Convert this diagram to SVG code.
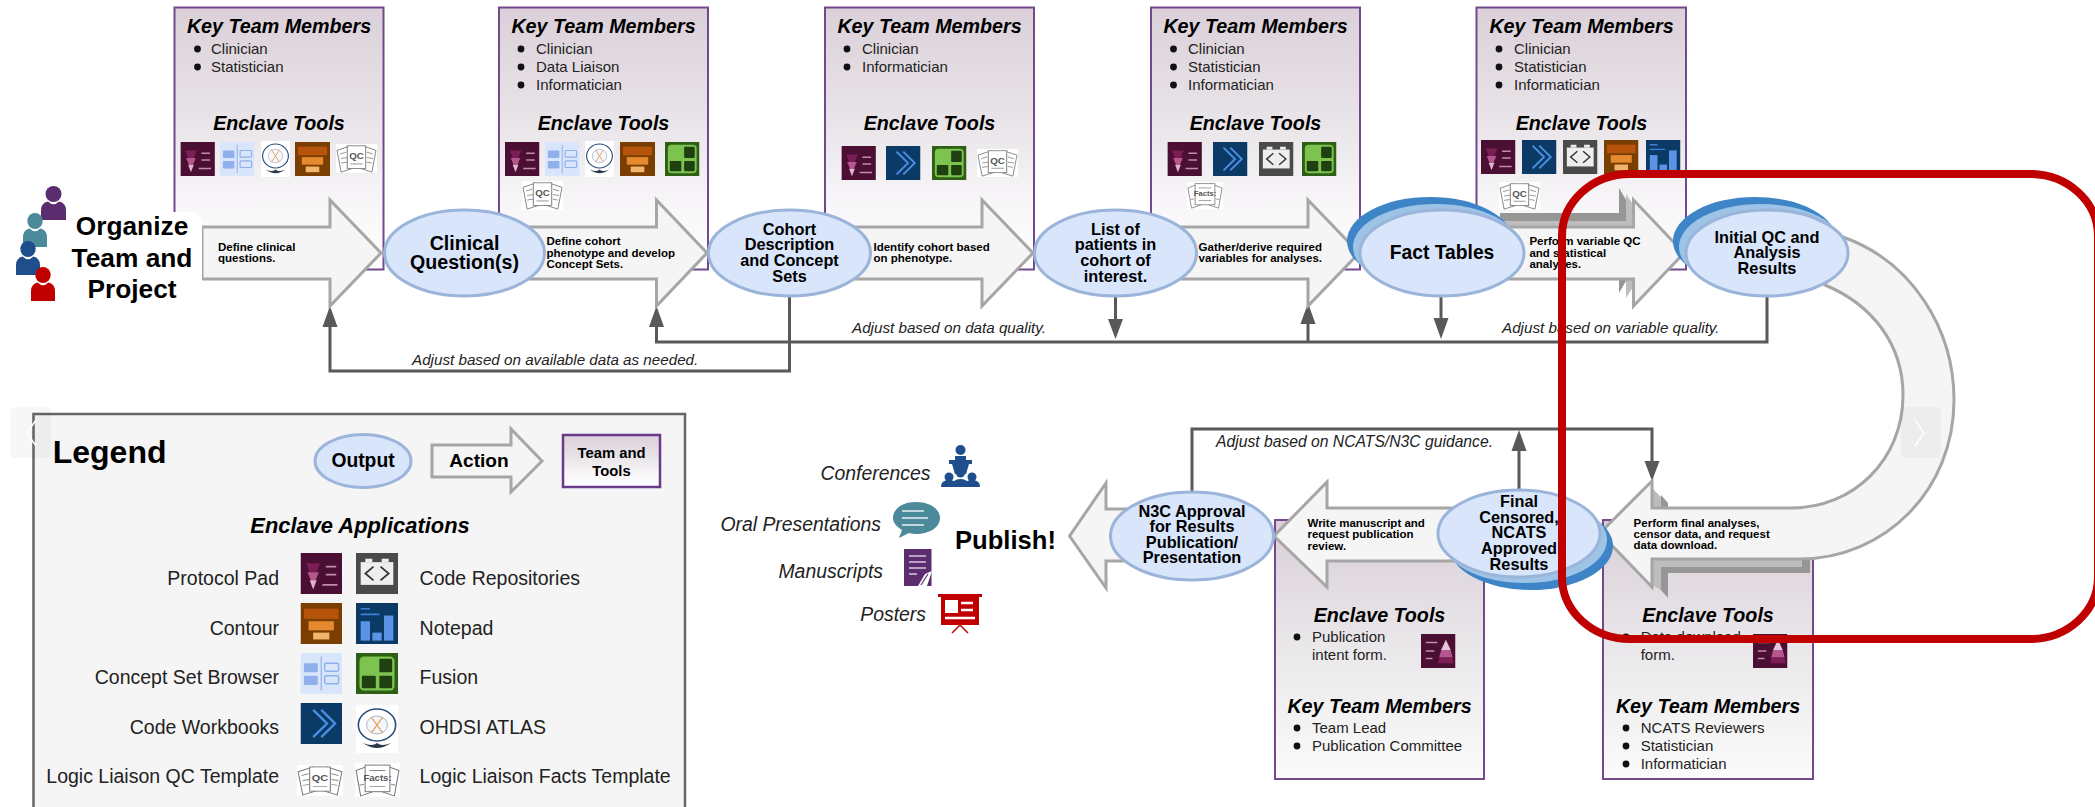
<svg xmlns="http://www.w3.org/2000/svg" width="2095" height="807" viewBox="0 0 2095 807">
<style>
text{font-family:"Liberation Sans",Arial,sans-serif;fill:#000}
.h{font-size:19.7px;font-weight:bold;font-style:italic;text-anchor:middle}
.b{font-size:15px;fill:#222}
.a{font-size:11.5px;font-weight:bold}
.o{font-size:16.3px;font-weight:bold;text-anchor:middle}
.f{font-size:15.2px;font-style:italic;fill:#222}
.p{font-size:19.4px;font-style:italic;text-anchor:end;fill:#222}
.ll{font-size:19.5px;text-anchor:end;fill:#222}
.lr{font-size:19.5px;fill:#222}
.panel{stroke:#74488c;stroke-width:2}
.arr{fill:#f5f5f5;stroke:#a6a6a6;stroke-width:3;stroke-linejoin:miter}
.ell{fill:#d8e5fb;stroke:#9bb4da;stroke-width:3}
.s1{fill:#3d85c6}.s2{fill:#9dc3e6}
.sd{fill:#969696}.sl{fill:#bdbdbd}
.ln{fill:none;stroke:#595959;stroke-width:3}
.hd{fill:#595959}
.dot{fill:#111}
.icontext{font-size:9px;fill:#555;font-weight:bold;text-anchor:middle}
</style>
<defs>
<linearGradient id="g1" x1="0" y1="0" x2="0" y2="1"><stop offset="0" stop-color="#dbd0d9"/><stop offset=".45" stop-color="#e9e5e9"/><stop offset=".75" stop-color="#f8f6f8"/><stop offset="1" stop-color="#fff"/></linearGradient>
<linearGradient id="g2" x1="0" y1="0" x2="0" y2="1"><stop offset="0" stop-color="#d9ced8"/><stop offset=".5" stop-color="#eae8ea"/><stop offset="1" stop-color="#fbfbfb"/></linearGradient>
<symbol id="pp" viewBox="0 0 36 36" preserveAspectRatio="none"><rect width="36" height="36" fill="#4a0f33"/><polygon points="5,9 17,9 14,17 8,17" fill="#7d1d55"/><polygon points="6,17 16,17 13,24 9,24" fill="#b5568f"/><polygon points="8,24 14,24 11,32" fill="#e2b3d0"/><path d="M22 12h9M22 19h9M19 28h13" stroke="#c48ab0" stroke-width="1.6"/></symbol>
<symbol id="cw" viewBox="0 0 36 36" preserveAspectRatio="none"><rect width="36" height="36" fill="#0b3a66"/><path d="M11 6l12 12l-12 12M18 6l12 12l-12 12" fill="none" stroke="#4a90e2" stroke-width="2"/></symbol>
<symbol id="repo" viewBox="0 0 36 36" preserveAspectRatio="none"><rect width="36" height="36" fill="#4a4a4a"/><rect x="4" y="8" width="28" height="20" fill="#eee"/><rect x="8" y="5" width="6" height="3" fill="#eee"/><rect x="22" y="5" width="6" height="3" fill="#eee"/><path d="M15 12l-7 6l7 6M21 12l7 6l-7 6" fill="none" stroke="#333" stroke-width="1.5"/></symbol>
<symbol id="con" viewBox="0 0 36 36" preserveAspectRatio="none"><rect width="36" height="36" fill="#7a3e00"/><rect x="3" y="5" width="30" height="9" fill="#b5540a"/><rect x="7" y="16" width="22" height="8" fill="#e58a2e"/><rect x="11" y="26" width="14" height="6" fill="#f3b56b"/></symbol>
<symbol id="note" viewBox="0 0 36 36" preserveAspectRatio="none"><rect width="36" height="36" fill="#0c3a66"/><path d="M4 5h8M4 10h16" stroke="#3f7fd6" stroke-width="1.4"/><rect x="4" y="16" width="8" height="17" fill="#5b93e6"/><rect x="14" y="26" width="8" height="7" fill="#5b93e6"/><rect x="24" y="11" width="8" height="22" fill="#5b93e6"/></symbol>
<symbol id="csb" viewBox="0 0 36 36" preserveAspectRatio="none"><rect width="36" height="36" fill="#d8e5fb"/><rect x="3" y="9" width="12" height="8" rx="1" fill="#8fb0ea"/><rect x="3" y="20" width="12" height="8" rx="1" fill="#8fb0ea"/><rect x="21" y="9" width="12" height="7" rx="1" fill="none" stroke="#8fb0ea" stroke-width="1.2"/><rect x="21" y="20" width="12" height="7" rx="1" fill="none" stroke="#8fb0ea" stroke-width="1.2"/><path d="M18 3v30" stroke="#8fb0ea" stroke-width="1"/></symbol>
<symbol id="fus" viewBox="0 0 36 36" preserveAspectRatio="none"><rect width="36" height="36" fill="#2f5f14"/><rect x="3" y="3" width="30" height="30" rx="4" fill="#7cc350"/><rect x="20" y="5" width="11" height="12" rx="1" fill="#1f4010"/><rect x="5" y="20" width="12" height="11" rx="1" fill="#1f4010"/><rect x="20" y="20" width="11" height="11" rx="1" fill="#1f4010"/></symbol>
<symbol id="atl" viewBox="0 0 36 48" preserveAspectRatio="none"><rect width="36" height="48" fill="#fff"/><circle cx="18" cy="20" r="16" fill="#fff" stroke="#2a4d7a" stroke-width="1.4"/><circle cx="18" cy="20" r="9" fill="#f4f7fb" stroke="#9ab" stroke-width=".8"/><path d="M13 12l10 16M23 12l-10 16" stroke="#e8a060" stroke-width="1.2"/><path d="M6 38Q18 48 30 38Q22 42 18 38Q14 42 6 38Z" fill="#2b3a4a"/></symbol>
<symbol id="qc" viewBox="0 0 40 32" preserveAspectRatio="none"><rect width="40" height="32" fill="#fff"/><polygon points="1,7 14,2 16,27 5,31" fill="#fff" stroke="#777" stroke-width=".9"/><polygon points="39,7 26,2 24,27 35,31" fill="#fff" stroke="#777" stroke-width=".9"/><rect x="11" y="2" width="18" height="25" fill="#fff" stroke="#777" stroke-width=".9"/><path d="M4 11l6-2M5 16l6-1M5 21l6-1M30 9l6 2M30 15l6 1M30 20l5 1M14 22h12" stroke="#888" stroke-width=".9"/><text x="20" y="17" class="icontext" style="font-size:9.5px">QC</text></symbol>
<symbol id="facts" viewBox="0 0 40 32" preserveAspectRatio="none"><rect width="40" height="32" fill="#fff"/><polygon points="1,7 14,2 16,27 5,31" fill="#fff" stroke="#777" stroke-width=".9"/><polygon points="39,7 26,2 24,27 35,31" fill="#fff" stroke="#777" stroke-width=".9"/><rect x="9" y="2" width="22" height="25" fill="#fff" stroke="#777" stroke-width=".9"/><path d="M13 7h14M13 22h14M4 21l4-1M32 20l4 1" stroke="#888" stroke-width=".9"/><text x="20" y="17" class="icontext" style="font-size:8.5px">Facts:</text></symbol>
<symbol id="pub" viewBox="0 0 36 36" preserveAspectRatio="none"><rect width="36" height="36" fill="#4a0f33"/><path d="M5 9h12M5 18h9M5 26h7" stroke="#c48ab0" stroke-width="1.6"/><polygon points="26,6 21,17 31,17" fill="#e8c4da"/><polygon points="21,17 31,17 33,25 19,25" fill="#b5568f"/><polygon points="19,25 33,25 34,31 18,31" fill="#7d1d55"/></symbol>
<symbol id="person" viewBox="0 0 25 34" preserveAspectRatio="none"><circle cx="12.5" cy="8" r="8" fill="currentColor"/><path d="M0 34V24Q0 17 7 15.5Q12.5 21 18 15.5Q25 17 25 24V34Z" fill="currentColor"/></symbol>
</defs>
<rect width="2095" height="807" fill="#fff"/>

<g id="panel-1"><rect class="panel" x="174.5" y="7.5" width="209" height="262" fill="url(#g1)"/></g>
<g id="panel-2"><rect class="panel" x="499" y="7.5" width="209" height="262" fill="url(#g1)"/></g>
<g id="panel-3"><rect class="panel" x="825" y="7.5" width="209" height="262" fill="url(#g1)"/></g>
<g id="panel-4"><rect class="panel" x="1151" y="7.5" width="209" height="262" fill="url(#g1)"/></g>
<g id="panel-5"><rect class="panel" x="1476.5" y="7.5" width="209.5" height="262" fill="url(#g1)"/></g>
<g id="panel-6"><rect class="panel" x="1275" y="520" width="209" height="259" fill="url(#g2)"/></g>
<g id="panel-7"><rect class="panel" x="1603" y="520" width="210" height="259" fill="url(#g2)"/></g>

<g id="panel-1-content">
<text class="h" x="279" y="33">Key Team Members</text>
<circle class="dot" cx="197.5" cy="49" r="3.4"/><text class="b" x="211" y="54">Clinician</text>
<circle class="dot" cx="197.5" cy="67" r="3.4"/><text class="b" x="211" y="72">Statistician</text>
<text class="h" x="279" y="130">Enclave Tools</text>
<use href="#pp" x="180.4" y="142" width="34.5" height="34"/><use href="#csb" x="220" y="142" width="34.5" height="34"/><use href="#atl" x="261" y="141" width="29" height="36"/><use href="#con" x="295" y="142" width="35" height="34"/><use href="#qc" x="336" y="144" width="41" height="29"/>
</g>
<g id="panel-2-content">
<text class="h" x="603.5" y="33">Key Team Members</text>
<circle class="dot" cx="521" cy="49" r="3.4"/><text class="b" x="536" y="54">Clinician</text>
<circle class="dot" cx="521" cy="67" r="3.4"/><text class="b" x="536" y="72">Data Liaison</text>
<circle class="dot" cx="521" cy="85" r="3.4"/><text class="b" x="536" y="90">Informatician</text>
<text class="h" x="603.5" y="130">Enclave Tools</text>
<use href="#pp" x="505" y="142" width="34.5" height="34"/><use href="#csb" x="545" y="142" width="34.5" height="34"/><use href="#atl" x="585" y="141" width="29" height="36"/><use href="#con" x="620" y="142" width="35" height="34"/><use href="#fus" x="665" y="142" width="34.5" height="34"/><use href="#qc" x="522" y="181" width="41" height="29"/>
</g>
<g id="panel-3-content">
<text class="h" x="929.5" y="33">Key Team Members</text>
<circle class="dot" cx="847" cy="49" r="3.4"/><text class="b" x="862" y="54">Clinician</text>
<circle class="dot" cx="847" cy="67" r="3.4"/><text class="b" x="862" y="72">Informatician</text>
<text class="h" x="929.5" y="130">Enclave Tools</text>
<use href="#pp" x="841.4" y="146" width="34.5" height="34"/><use href="#cw" x="886" y="146" width="34.5" height="34"/><use href="#fus" x="932" y="146" width="34.5" height="34"/><use href="#qc" x="977" y="149" width="41" height="28"/>
</g>
<g id="panel-4-content">
<text class="h" x="1255.5" y="33">Key Team Members</text>
<circle class="dot" cx="1173.5" cy="49" r="3.4"/><text class="b" x="1188" y="54">Clinician</text>
<circle class="dot" cx="1173.5" cy="67" r="3.4"/><text class="b" x="1188" y="72">Statistician</text>
<circle class="dot" cx="1173.5" cy="85" r="3.4"/><text class="b" x="1188" y="90">Informatician</text>
<text class="h" x="1255.5" y="130">Enclave Tools</text>
<use href="#pp" x="1167.4" y="142" width="34.5" height="34"/><use href="#cw" x="1213" y="142" width="34.5" height="34"/><use href="#repo" x="1259" y="142" width="34.5" height="34"/><use href="#fus" x="1302" y="142" width="34.5" height="34"/><use href="#facts" x="1187" y="182" width="36" height="27"/>
</g>
<g id="panel-5-content">
<text class="h" x="1581.5" y="33">Key Team Members</text>
<circle class="dot" cx="1499" cy="49" r="3.4"/><text class="b" x="1514" y="54">Clinician</text>
<circle class="dot" cx="1499" cy="67" r="3.4"/><text class="b" x="1514" y="72">Statistician</text>
<circle class="dot" cx="1499" cy="85" r="3.4"/><text class="b" x="1514" y="90">Informatician</text>
<text class="h" x="1581.5" y="130">Enclave Tools</text>
<use href="#pp" x="1481" y="140" width="34.5" height="34"/><use href="#cw" x="1522" y="140" width="34.5" height="34"/><use href="#repo" x="1563" y="140" width="34.5" height="34"/><use href="#con" x="1604" y="140" width="34.5" height="34"/><use href="#note" x="1646" y="140" width="34.5" height="34"/><use href="#qc" x="1499" y="182" width="41" height="28"/>
</g>
<g id="panel-6-content">
<text class="h" x="1379.5" y="622">Enclave Tools</text>
<circle class="dot" cx="1297" cy="637" r="3.4"/><text class="b" x="1312" y="642">Publication</text><text class="b" x="1312" y="660">intent form.</text>
<use href="#pub" x="1421" y="634" width="34.5" height="34"/>
<text class="h" x="1379.5" y="713">Key Team Members</text>
<circle class="dot" cx="1297" cy="728" r="3.4"/><text class="b" x="1312" y="733">Team Lead</text>
<circle class="dot" cx="1297" cy="746" r="3.4"/><text class="b" x="1312" y="751">Publication Committee</text>
</g>
<g id="panel-7-content">
<text class="h" x="1708" y="622">Enclave Tools</text>
<circle class="dot" cx="1626" cy="637" r="3.4"/><text class="b" x="1640.7" y="642">Data download</text><text class="b" x="1640.7" y="660">form.</text>
<use href="#pub" x="1753" y="634" width="34.5" height="34"/>
<text class="h" x="1708" y="713">Key Team Members</text>
<circle class="dot" cx="1626" cy="728" r="3.4"/><text class="b" x="1640.7" y="733">NCATS Reviewers</text>
<circle class="dot" cx="1626" cy="746" r="3.4"/><text class="b" x="1640.7" y="751">Statistician</text>
<circle class="dot" cx="1626" cy="764" r="3.4"/><text class="b" x="1640.7" y="769">Informatician</text>
</g>

<g id="connectors">
<path class="ln" d="M789.5 296V371H330V325"/>
<polygon class="hd" points="330,306 322.5,327 337.5,327"/>
<path class="ln" d="M1767 296V342H656.5V325"/>
<polygon class="hd" points="656.5,306 649,327 664,327"/>
<path class="ln" d="M1308 342V320"/>
<polygon class="hd" points="1308,303 1300.5,324 1315.5,324"/>
<path class="ln" d="M1115.5 296V322"/>
<polygon class="hd" points="1115.5,339 1108,319 1123,319"/>
<path class="ln" d="M1441 296V322"/>
<polygon class="hd" points="1441,339 1433.5,318 1448.5,318"/>
<path class="ln" d="M1192 492V429H1652V465"/>
<polygon class="hd" points="1652,481 1644.5,461 1659.5,461"/>
<path class="ln" d="M1519 490V448"/>
<polygon class="hd" points="1519,430 1511.5,451 1526.5,451"/>
<text class="f" x="412" y="365">Adjust based on available data as needed.</text>
<text class="f" x="852" y="333">Adjust based on data quality.</text>
<text class="f" x="1502" y="333">Adjust based on variable quality.</text>
<text class="f" x="1216" y="447" style="font-size:15.7px">Adjust based on NCATS/N3C guidance.</text>
</g>

<g id="arrow-1"><polygon class="arr" points="202,227 330,227 330,200 381,253 330,306 330,279 202,279"/><text class="a" x="218" y="251">Define clinical</text><text class="a" x="218" y="262">questions.</text></g>
<g id="arrow-2"><polygon class="arr" points="530,227 656.5,227 656.5,200 707,253 656.5,306 656.5,279 530,279"/><text class="a" x="546.5" y="245">Define cohort</text><text class="a" x="546.5" y="257">phenotype and develop</text><text class="a" x="546.5" y="268">Concept Sets.</text></g>
<g id="arrow-3"><polygon class="arr" points="855,227 982,227 982,200 1033,253 982,306 982,279 855,279"/><text class="a" x="873.5" y="251">Identify cohort based</text><text class="a" x="873.5" y="262">on phenotype.</text></g>
<g id="arrow-4"><polygon class="arr" points="1180,227 1308,227 1308,200 1359,253 1308,306 1308,279 1180,279"/><text class="a" x="1198.6" y="251">Gather/derive required</text><text class="a" x="1198.6" y="262">variables for analyses.</text></g>
<g id="arrow-5">
<polygon class="sd" points="1500,213 1619,213 1619,188 1650,240 1619,293 1619,279 1500,279"/>
<polygon class="sl" points="1500,221 1626,221 1626,194 1660,245 1626,298 1626,279 1500,279"/>
<polygon class="arr" points="1500,227 1633.5,227 1633.5,200 1684,253 1633.5,306 1633.5,279 1500,279"/>
<text class="a" x="1529.4" y="245">Perform variable QC</text><text class="a" x="1529.4" y="257">and statistical</text><text class="a" x="1529.4" y="268">analyses.</text></g>
<g id="arrow-6">
<polygon class="sl" points="1652,488 1661,497 1661,508 1652,508"/>
<polygon class="sd" points="1661,495 1668,503 1668,508 1661,508"/>
<polygon class="sd" points="1661,559 1810,559 1810,573 1668,573 1668,598 1652,580"/>
<polygon class="sl" points="1652,559 1802,559 1802,567 1661,567 1661,590 1652,585"/>
<path class="arr" d="M1843 237C1913 262 1954 330 1954 400C1954 490 1885 559 1799 559L1652 559L1652 587L1600 533L1652 481L1652 508L1792 508C1853 508 1903 460 1903 395C1903 345 1873 305 1825 285Z"/>
<text class="a" x="1633.6" y="527">Perform final analyses,</text><text class="a" x="1633.6" y="538">censor data, and request</text><text class="a" x="1633.6" y="549">data download.</text></g>
<g id="arrow-7"><polygon class="arr" points="1480,508 1327,508 1327,482 1274,536 1327,587 1327,561 1480,561"/><text class="a" x="1307.5" y="527">Write manuscript and</text><text class="a" x="1307.5" y="538">request publication</text><text class="a" x="1307.5" y="550">review.</text></g>
<g id="arrow-8"><polygon class="arr" points="1150,509 1106,509 1106,483 1069.6,536 1106,588 1106,561 1150,561"/></g>

<g id="organize">
<rect x="10" y="212" width="192" height="92" rx="10" fill="#fff"/>
<use href="#person" x="41" y="186" width="25" height="34" style="color:#5c2d6e"/>
<use href="#person" x="23" y="213" width="24" height="34" style="color:#4a8a9a"/>
<use href="#person" x="16" y="241" width="24" height="34" style="color:#1f4e8c"/>
<use href="#person" x="31" y="267" width="24" height="34" style="color:#c00000"/>
<text x="132" y="235" font-size="26.3" font-weight="bold" text-anchor="middle">Organize</text>
<text x="132" y="267" font-size="26.3" font-weight="bold" text-anchor="middle">Team and</text>
<text x="132" y="298" font-size="26.3" font-weight="bold" text-anchor="middle">Project</text>
</g>
<g id="clinical-questions"><ellipse class="ell" cx="464.5" cy="253" rx="80" ry="43"/><text x="464.5" y="250" font-size="19.6" font-weight="bold" text-anchor="middle">Clinical</text><text x="464.5" y="269" font-size="19.6" font-weight="bold" text-anchor="middle">Question(s)</text></g>
<g id="cohort-description"><ellipse class="ell" cx="789.5" cy="253" rx="81" ry="43"/><text class="o" x="789.5" y="235">Cohort</text><text class="o" x="789.5" y="250">Description</text><text class="o" x="789.5" y="266">and Concept</text><text class="o" x="789.5" y="282">Sets</text></g>
<g id="patient-list"><ellipse class="ell" cx="1115.5" cy="253" rx="81" ry="43"/><text class="o" x="1115.5" y="235">List of</text><text class="o" x="1115.5" y="250">patients in</text><text class="o" x="1115.5" y="266">cohort of</text><text class="o" x="1115.5" y="282">interest.</text></g>
<g id="fact-tables"><ellipse class="s1" cx="1430" cy="241" rx="83" ry="44"/><ellipse class="s2" cx="1436" cy="247" rx="83" ry="43"/><ellipse class="ell" cx="1442" cy="253" rx="82" ry="43"/><text x="1442" y="259" font-size="19.3" font-weight="bold" text-anchor="middle">Fact Tables</text></g>
<g id="initial-qc"><ellipse class="s1" cx="1755" cy="241" rx="82" ry="44"/><ellipse class="s2" cx="1761" cy="247" rx="82" ry="43"/><ellipse class="ell" cx="1767" cy="253" rx="81" ry="43"/><text class="o" x="1767" y="243">Initial QC and</text><text class="o" x="1767" y="258">Analysis</text><text class="o" x="1767" y="274">Results</text></g>
<g id="final-results"><ellipse class="s1" cx="1531" cy="546" rx="82" ry="44"/><ellipse class="s2" cx="1525" cy="540" rx="82" ry="43"/><ellipse class="ell" cx="1519" cy="533.5" rx="81" ry="43.5"/><text class="o" x="1519" y="507">Final</text><text class="o" x="1519" y="523">Censored,</text><text class="o" x="1519" y="538">NCATS</text><text class="o" x="1519" y="554">Approved</text><text class="o" x="1519" y="570">Results</text></g>
<g id="n3c-approval"><ellipse class="ell" cx="1192" cy="536" rx="81.5" ry="44"/><text class="o" x="1192" y="517">N3C Approval</text><text class="o" x="1192" y="532">for Results</text><text class="o" x="1192" y="548">Publication/</text><text class="o" x="1192" y="563">Presentation</text></g>

<g id="publish">
<text x="955" y="549" font-size="25.6" font-weight="bold">Publish!</text>
<text class="p" x="930.5" y="480">Conferences</text>
<text class="p" x="881" y="531">Oral Presentations</text>
<text class="p" x="883" y="578">Manuscripts</text>
<text class="p" x="926" y="621">Posters</text>
<g fill="#1f4e8c"><circle cx="960.5" cy="450" r="5"/><path d="M955 456h11v7h-11z"/><rect x="949" y="460" width="23" height="4"/><polygon points="952,464 969,464 966,474 955,474"/><circle cx="960.5" cy="473" r="4.5"/><circle cx="949" cy="477" r="4.5"/><circle cx="972" cy="477" r="4.5"/><path d="M941 487q0-7 8-7q8 0 8 7zM952 487q0-8 8.5-8q8.5 0 8.5 8zM964 487q0-7 8-7q8 0 8 7z"/></g>
<path d="M916 502c14 0 24 7 24 16s-10 16-24 16q-4 0-7-1l-10 5l3-8c-5-3-9-7-9-12c0-9 9-16 23-16z" fill="#4a8a9a"/><path d="M902 511h22M902 518h26M902 525h22" stroke="#e9f1f3" stroke-width="1.6"/>
<rect x="904" y="549" width="27.5" height="37" fill="#5c2d6e"/><path d="M909 556h17M909 562h17M909 568h17M909 574h8" stroke="#d9c7df" stroke-width="1.6"/><path d="M918 586l7-12l7-3l-5 15z" fill="#fff"/><path d="M921 585l7-11" stroke="#5c2d6e" stroke-width="1.2"/>
<rect x="938" y="594" width="44" height="3" fill="#c00000"/><rect x="941" y="597" width="38" height="28" fill="#c00000"/><rect x="945" y="600" width="13" height="13" fill="#fff"/><path d="M961 603h12M961 610h12M945 618h30" stroke="#fff" stroke-width="2.5"/><path d="M960 625l-8 8M960 625l8 8" stroke="#c00000" stroke-width="1.5" fill="none"/>
</g>

<g id="legend">
<rect x="33.5" y="414" width="651.5" height="400" fill="#f5f5f5" stroke="#666" stroke-width="2.5"/>
<text x="52.7" y="463" font-size="32" font-weight="bold">Legend</text>
<ellipse class="ell" cx="363" cy="461" rx="48" ry="26.5"/><text x="363" y="467" font-size="19.3" font-weight="bold" text-anchor="middle">Output</text>
<polygon class="arr" points="432,445 511,445 511,429 542,461 511,492 511,477 432,477"/><text x="479" y="467" font-size="19.1" font-weight="bold" text-anchor="middle">Action</text>
<rect x="563" y="435" width="97" height="52" fill="url(#g1)" stroke="#6a3a8a" stroke-width="2.5"/><text x="611.5" y="458" font-size="14.8" font-weight="bold" text-anchor="middle">Team and</text><text x="611.5" y="476" font-size="14.8" font-weight="bold" text-anchor="middle">Tools</text>
<text x="360" y="533" font-size="21.9" font-weight="bold" font-style="italic" text-anchor="middle">Enclave Applications</text>
<text class="ll" x="279" y="585">Protocol Pad</text><text class="ll" x="279" y="635">Contour</text><text class="ll" x="279" y="684">Concept Set Browser</text><text class="ll" x="279" y="734">Code Workbooks</text><text class="ll" x="279" y="783">Logic Liaison QC Template</text>
<text class="lr" x="419.6" y="585">Code Repositories</text><text class="lr" x="419.6" y="635">Notepad</text><text class="lr" x="419.6" y="684">Fusion</text><text class="lr" x="419.6" y="734">OHDSI ATLAS</text><text class="lr" x="419.6" y="783">Logic Liaison Facts Template</text>
<use href="#pp" x="300.5" y="553" width="41.5" height="41"/><use href="#con" x="300.5" y="603" width="41.5" height="41"/><use href="#csb" x="300.5" y="653" width="41.5" height="41"/><use href="#cw" x="300.5" y="703" width="41.5" height="41"/><use href="#qc" x="297" y="765" width="46" height="31"/>
<use href="#repo" x="356" y="553" width="42" height="41"/><use href="#note" x="356" y="603" width="42" height="41"/><use href="#fus" x="356" y="653" width="42" height="41"/><use href="#atl" x="356" y="705" width="42" height="48"/><use href="#facts" x="355" y="763" width="45" height="34"/>
</g>

<g id="carousel-controls">
<rect x="10" y="407" width="41" height="51" rx="5" fill="#000" fill-opacity=".03"/><path d="M36 420l-9 13l9 13" fill="none" stroke="#fff" stroke-width="1.5"/>
<rect x="1901" y="407" width="40" height="51" rx="5" fill="#000" fill-opacity=".03"/><path d="M1915 420l9 13l-9 13" fill="none" stroke="#fff" stroke-width="1.5"/>
</g>
<rect id="highlight" x="1562" y="174" width="536" height="465" rx="68" ry="62" fill="none" stroke="#c00000" stroke-width="8"/>
</svg>
